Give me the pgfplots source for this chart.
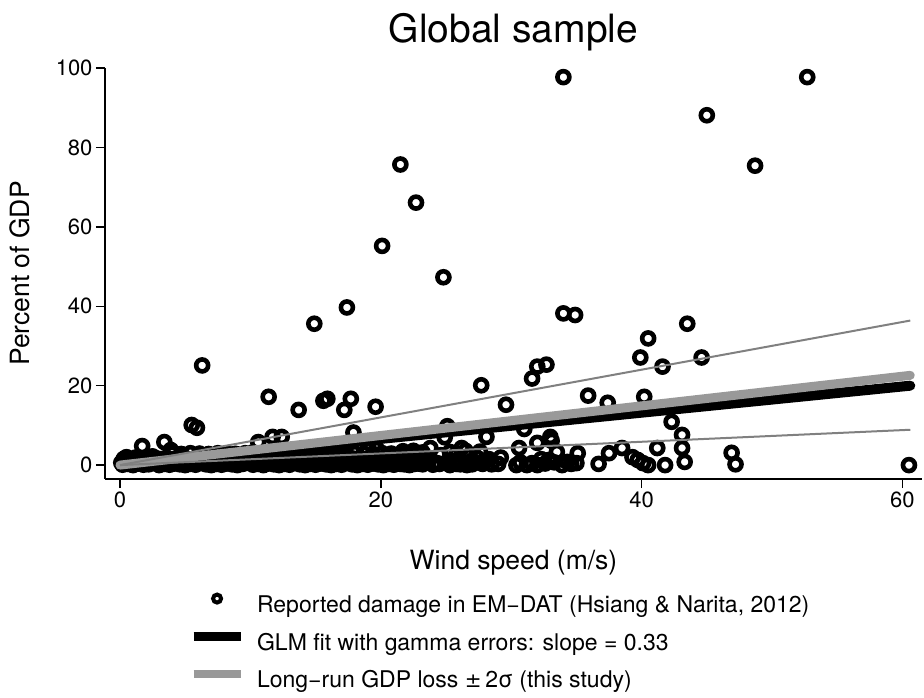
\documentclass[border=0pt]{standalone}
\usepackage{pgfplots}
\pgfplotsset{compat=1.18}
\usepackage{fontspec}
\setmainfont{TeX Gyre Heros}
\definecolor{bandgrey}{RGB}{153,153,153}
\definecolor{thingrey}{RGB}{128,128,128}
\begin{document}
\begin{tikzpicture}
\path[use as bounding box] (-105pt,-219pt) rectangle (819pt,479pt);
\begin{axis}[
  at={(0pt,0pt)}, anchor=south west,
  scale only axis, width=817pt, height=411pt,
  xmin=-1.15, xmax=61.5, ymin=-3.5, ymax=100,
  axis x line*=bottom, axis y line*=left,
  axis line style={line width=2pt, -},
  xtick={0,20,40,60}, ytick={0,20,40,60,80,100},
  tick align=outside, major tick length=9pt,
  tick style={line width=1.5pt, black},
  /pgf/number format/assume math mode=true,
  tick label style={font=\fontsize{22}{26}\selectfont},
  label style={font=\fontsize{26.5}{30}\selectfont},
  xlabel={Wind speed (m/s)},
  ylabel={Percent of GDP},
  xlabel style={at={(axis description cs:0.5,-0.203)}, anchor=center},
  ylabel style={at={(axis description cs:-0.104,0.5)}, anchor=center, rotate=0},
  title={Global sample},
  title style={at={(axis description cs:0.5,1.072)}, anchor=center, font=\fontsize{39}{45}\selectfont},
  legend style={at={(axis description cs:0.099,-0.398)}, anchor=west, draw=none, fill=none,
    font=\fontsize{23}{27}\selectfont, row sep=15pt, column sep=12pt,
    nodes={inner sep=0pt, text height=17pt, text depth=5pt}},
  legend cell align=left,
  clip=false,
  clip marker paths=true,
]
\addplot[only marks, mark=o, mark size=6pt, mark options={line width=4.6pt, black},
  legend image code/.code={\draw[black, line width=4pt] (23.5pt,7.5pt) circle (4pt); \path[draw=none] (0pt,7.5pt) -- (47pt,7.5pt);}]
  table {
x y
21.5 75.7
22.7 66.1
20.1 55.2
24.8 47.3
17.4 39.7
14.9 35.6
34.0 97.7
52.7 97.7
45.0 88.1
48.7 75.4
34.0 38.2
34.9 37.8
43.5 35.6
6.3 25.1
11.4 17.2
13.7 13.9
15.6 16.2
15.9 16.7
17.7 16.7
17.2 13.9
19.6 14.7
5.5 10.1
5.9 9.4
1.7 4.8
3.4 5.8
3.9 3.8
0.5 2.0
17.9 8.2
10.6 5.8
11.7 7.1
12.4 7.1
40.5 31.9
39.9 27.1
41.6 24.8
44.6 27.1
27.7 20.1
32.0 24.8
32.7 25.3
31.6 21.8
29.6 15.2
35.9 17.5
37.4 15.7
40.2 17.2
42.3 10.9
43.1 7.6
43.1 4.3
43.3 0.8
41.2 4.3
41.8 0.0
39.3 2.0
39.7 1.3
40.1 0.5
40.5 0.0
38.5 4.3
37.5 3.0
36.7 0.3
35.1 3.0
35.0 0.5
46.9 3.1
47.2 0.2
60.5 0.0
33.0 7.1
33.1 6.1
32.0 5.6
30.6 4.3
28.1 7.1
25.1 9.8
24.9 7.0
31.0 9.1
33.5 3.3
34.3 0.8
33.9 0.0
32.0 0.0
31.2 0.0
30.7 0.7
30.4 0.0
32.6 0.4
32.9 1.3
28.5 0.2
27.8 0.3
27.0 0.2
26.6 0.0
25.8 0.3
25.3 0.0
24.5 0.3
24.0 0.1
23.2 0.2
25.3 3.3
26.2 4.3
27.4 1.8
23.8 4.3
23.5 1.8
0.2 0.1
0.6 0.3
1.0 0.0
1.4 0.4
1.8 0.1
2.2 0.2
2.6 0.5
3.0 0.0
3.4 0.3
3.8 0.1
4.2 0.4
4.6 0.2
5.0 0.0
5.4 0.3
5.8 0.1
6.2 0.5
6.6 0.2
7.0 0.0
7.4 0.3
7.8 0.1
8.2 0.4
8.6 0.2
9.0 0.0
9.4 0.3
9.8 0.6
10.2 0.1
10.6 0.3
11.0 0.0
11.4 0.4
11.8 0.2
12.2 0.0
12.6 0.3
13.0 0.1
13.4 0.5
13.8 0.2
14.2 0.0
14.6 0.3
15.0 0.1
15.4 0.4
15.8 0.2
16.2 0.0
16.6 0.3
17.0 0.1
17.4 0.5
17.8 0.2
18.2 0.0
18.6 0.3
19.0 0.1
19.4 0.4
19.8 0.2
20.2 0.0
20.6 0.3
21.0 0.1
21.4 0.4
21.8 0.2
22.2 0.0
22.6 0.3
0.1 0.6
0.5 0.7
0.9 0.5
1.3 0.6
1.7 0.7
2.1 0.5
2.5 0.6
2.9 0.7
3.3 0.5
3.7 0.6
4.1 0.7
4.5 0.5
4.9 0.6
5.3 0.7
5.7 0.5
6.1 0.6
6.5 0.7
6.9 0.5
7.3 0.6
7.7 0.7
8.1 0.5
8.5 0.6
8.9 0.7
9.3 0.5
9.7 0.6
10.1 0.7
10.5 0.5
10.9 0.6
11.3 0.7
11.7 0.5
12.1 0.6
12.5 0.7
12.9 0.5
13.3 0.6
13.7 0.7
14.1 0.5
14.5 0.6
14.9 0.7
15.3 0.5
15.7 0.6
16.1 0.7
16.5 0.5
16.9 0.6
17.3 0.7
17.7 0.5
18.1 0.6
18.5 0.7
18.9 0.5
19.3 0.6
19.7 0.7
20.1 0.5
20.5 0.6
20.9 0.7
21.3 0.5
21.7 0.6
22.1 0.7
22.5 0.5
22.9 0.6
0.4 0.9
0.8 1.1
1.6 0.8
2.0 1.2
2.8 0.9
3.2 1.3
4.0 0.8
4.4 1.0
5.2 1.2
5.6 0.8
6.4 1.1
6.8 0.9
7.6 1.3
8.0 0.8
8.8 1.0
9.2 1.2
10.0 0.9
10.4 1.3
10.8 0.8
11.2 1.1
12.0 1.0
12.4 1.3
13.2 0.9
13.6 1.2
14.4 0.8
14.8 1.1
15.6 1.0
16.0 1.3
16.8 0.9
17.2 1.2
18.0 0.8
18.4 1.1
19.2 1.0
19.6 1.3
20.4 0.9
20.8 1.2
21.6 0.8
22.4 1.1
0.3 1.6
0.8 1.5
1.3 1.7
1.8 1.6
2.3 1.5
2.8 1.7
3.3 1.6
3.8 1.5
4.3 1.7
4.8 1.6
5.3 1.5
5.8 1.7
6.3 1.6
6.8 1.5
7.3 1.7
7.8 1.6
8.3 1.5
8.8 1.7
9.3 1.6
9.8 1.5
10.3 1.7
10.8 1.6
11.3 1.5
11.8 1.7
12.3 1.6
12.8 1.5
13.3 1.7
13.8 1.6
14.3 1.5
14.8 1.7
15.3 1.6
15.8 1.5
16.3 1.7
16.8 1.6
17.3 1.5
17.8 1.7
18.3 1.6
18.8 1.5
19.3 1.7
19.8 1.6
20.3 1.5
20.8 1.7
21.3 1.6
21.8 1.5
22.3 1.7
22.8 1.6
1.2 1.9
2.5 2.2
3.6 1.8
4.8 2.0
6.0 2.4
7.1 1.8
8.3 2.1
9.4 1.7
10.5 2.5
11.6 1.9
12.8 2.3
13.9 1.8
15.0 2.2
16.1 1.9
17.3 2.6
18.4 1.8
19.5 2.1
20.6 1.7
21.7 2.4
22.8 1.9
4.0 2.9
4.7 2.8
5.4 3.0
6.1 2.9
6.8 2.8
7.5 3.0
8.2 2.9
8.9 2.8
9.6 3.0
10.3 2.9
11.0 2.8
11.7 3.0
12.4 2.9
13.1 2.8
13.8 3.0
14.5 2.9
15.2 2.8
15.9 3.0
16.6 2.9
17.3 2.8
18.0 3.0
18.7 2.9
19.4 2.8
20.1 3.0
20.8 2.9
21.5 2.8
22.2 3.0
22.9 2.9
8.8 2.8
10.2 3.2
12.5 3.0
14.0 3.4
16.3 3.9
17.0 3.6
19.0 3.8
19.7 4.0
21.7 3.5
22.5 3.6
23.2 3.2
21.5 0.3
22.0 0.8
22.9 0.4
23.6 0.9
24.3 0.5
25.0 0.6
25.6 1.0
26.1 0.2
27.2 0.6
28.0 0.9
29.0 0.3
31.6 0.5
32.3 1.5
33.3 0.7
34.6 0.3
22.1 2.8
22.8 2.3
24.6 2.5
26.8 2.4
21.0 2.5
28.3 1.5
29.2 1.9
25.8 2.8
26.5 3.6
27.6 3.4
};
\addlegendentry{Reported damage in EM\textminus DAT (Hsiang \& Narita, 2012)}
\addplot[black, line width=10pt, line cap=round,
  legend image code/.code={\draw[black, line width=9pt, line cap=butt] (0pt,7.5pt) -- (47pt,7.5pt);}]
  table {
x y
0 0
60.6 20.0
};
\addlegendentry{GLM fit with gamma errors: slope = 0.33}
\addplot[bandgrey, line width=9pt, line cap=round,
  legend image code/.code={\draw[bandgrey, line width=8pt, line cap=butt] (0pt,7.5pt) -- (47pt,7.5pt);}]
  table {
x y
0 0
60.6 22.6
};
\addlegendentry{Long\textminus run GDP loss {\fontspec{DejaVu Sans}\fontsize{20}{25}\selectfont ±}\,2σ (this study)}
\addplot[thingrey, line width=2pt, forget plot] table {
x y
0 0
60.6 36.4
};
\addplot[thingrey, line width=2pt, forget plot] table {
x y
0 0
60.6 8.9
};
\end{axis}
\end{tikzpicture}
\end{document}
